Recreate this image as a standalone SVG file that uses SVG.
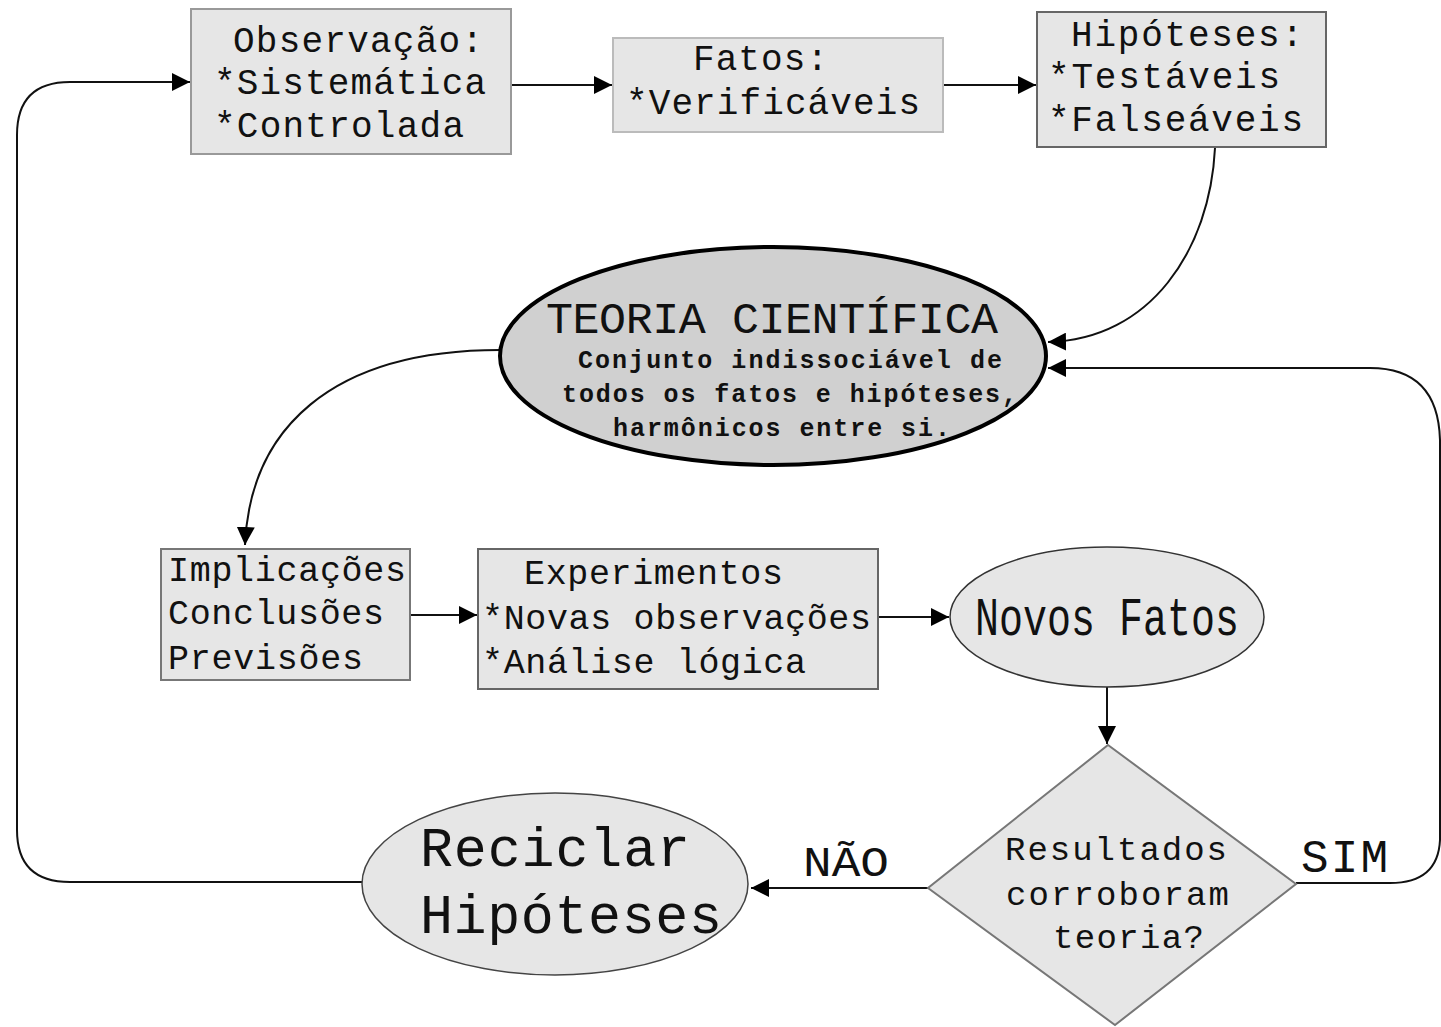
<svg xmlns="http://www.w3.org/2000/svg" width="1441" height="1027" viewBox="0 0 1441 1027">
<style>
.t{font-family:"Liberation Mono","DejaVu Sans Mono",monospace;fill:#111;}
.box{fill:#e6e6e6;stroke-width:2;}
.ln{fill:none;stroke:#111;stroke-width:2;}
</style>
<defs>
<marker id="a" viewBox="0 0 10 10" refX="10" refY="5" markerWidth="9" markerHeight="9" orient="auto">
<path d="M0,0 L10,5 L0,10 Z" fill="#000"/>
</marker>
</defs>
<rect width="1441" height="1027" fill="#fff"/>

<g id="connectors">
<path class="ln" d="M511,85 L612,85" marker-end="url(#a)"/>
<path class="ln" d="M943,85 L1036,85" marker-end="url(#a)"/>
<path class="ln" d="M1215,148 C1210,250 1150,340 1048,342" marker-end="url(#a)"/>
<path class="ln" d="M500,350 C330,350 250,430 245,545" marker-end="url(#a)"/>
<path class="ln" d="M410,615 L477,615" marker-end="url(#a)"/>
<path class="ln" d="M878,617 L949,617" marker-end="url(#a)"/>
<path class="ln" d="M1107,687 L1107,744" marker-end="url(#a)"/>
<path class="ln" d="M928,888 L751,888" marker-end="url(#a)"/>
<path class="ln" d="M1296,883 L1390,883 Q1438,883 1440,840 L1440,440 Q1438,368 1370,368 L1048,368" marker-end="url(#a)"/>
<path class="ln" d="M362,882 L70,882 Q17,882 17,830 L17,135 Q17,82 70,82 L190,82" marker-end="url(#a)"/>
</g>

<g id="observacao">
<rect class="box" x="191" y="9" width="320" height="145" stroke="#999"/>
<text class="t" font-size="36" x="233" y="52" textLength="250">Observação:</text>
<text class="t" font-size="36" x="214" y="94" textLength="272">*Sistemática</text>
<text class="t" font-size="36" x="214" y="137" textLength="250">*Controlada</text>
</g>

<g id="fatos">
<rect class="box" x="613" y="38" width="330" height="94" stroke="#bbb"/>
<text class="t" font-size="36" x="693" y="70" textLength="135">Fatos:</text>
<text class="t" font-size="36" x="626" y="114" textLength="294">*Verificáveis</text>
</g>

<g id="hipoteses">
<rect class="box" x="1037" y="12" width="289" height="135" stroke="#666"/>
<text class="t" font-size="36" x="1071" y="46" textLength="232">Hipóteses:</text>
<text class="t" font-size="36" x="1048" y="88" textLength="232">*Testáveis</text>
<text class="t" font-size="36" x="1048" y="131" textLength="255">*Falseáveis</text>
</g>

<g id="teoria">
<ellipse cx="773" cy="356" rx="273" ry="109" fill="#d0d0d0" stroke="#000" stroke-width="4"/>
<text class="t" font-size="45" x="546" y="333" textLength="452">TEORIA CIENTÍFICA</text>
<text class="t" font-size="25" font-weight="bold" x="578" y="368" textLength="424" fill="#333">Conjunto indissociável de</text>
<text class="t" font-size="25" font-weight="bold" x="562" y="402" textLength="455" fill="#333">todos os fatos e hipóteses,</text>
<text class="t" font-size="25" font-weight="bold" x="613" y="436" textLength="337" fill="#333">harmônicos entre si.</text>
</g>

<g id="implicacoes">
<rect class="box" x="161" y="549" width="249" height="131" stroke="#777"/>
<text class="t" font-size="35" x="168" y="581" textLength="238">Implicações</text>
<text class="t" font-size="35" x="168" y="624" textLength="216">Conclusões</text>
<text class="t" font-size="35" x="168" y="669" textLength="195">Previsões</text>
</g>

<g id="experimentos">
<rect class="box" x="478" y="549" width="400" height="140" stroke="#666"/>
<text class="t" font-size="35" x="524" y="584" textLength="259">Experimentos</text>
<text class="t" font-size="35" x="482" y="629" textLength="389">*Novas observações</text>
<text class="t" font-size="35" x="482" y="673" textLength="324">*Análise lógica</text>
</g>

<g id="novos-fatos">
<ellipse cx="1107" cy="617" rx="157" ry="70" fill="#e6e6e6" stroke="#333" stroke-width="1.5"/>
<text class="t" font-size="54" x="975" y="635" textLength="264" lengthAdjust="spacingAndGlyphs">Novos Fatos</text>
</g>

<g id="decisao">
<polygon points="1108,745 1296,884 1115,1025 928,888" fill="#e6e6e6" stroke="#777" stroke-width="2"/>
<text class="t" font-size="34" x="1005" y="860" textLength="222">Resultados</text>
<text class="t" font-size="34" x="1006" y="905" textLength="223">corroboram</text>
<text class="t" font-size="34" x="1053" y="948" textLength="151">teoria?</text>
</g>

<g id="reciclar">
<ellipse cx="555" cy="884" rx="193" ry="91" fill="#e6e6e6" stroke="#444" stroke-width="1.5"/>
<text class="t" font-size="55" x="420" y="866" textLength="270">Reciclar</text>
<text class="t" font-size="55" x="420" y="933" textLength="302">Hipóteses</text>
</g>

<g id="labels">
<text class="t" font-size="42" x="803" y="876" textLength="86" lengthAdjust="spacingAndGlyphs">NÃO</text>
<text class="t" font-size="46" x="1301" y="872" textLength="87">SIM</text>
</g>
</svg>
